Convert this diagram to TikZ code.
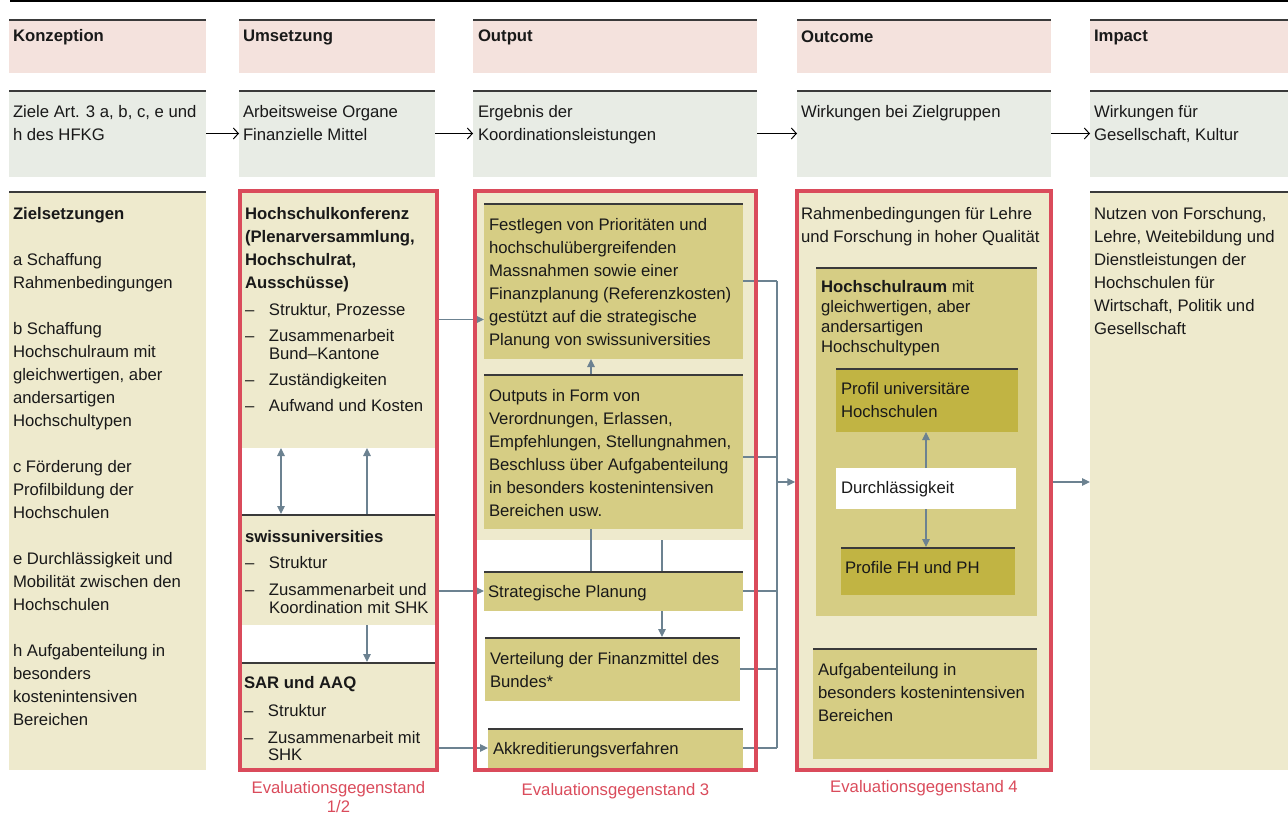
\documentclass[tikz,border=0pt]{standalone}
\usepackage{fontspec}
\setmainfont{Liberation Sans}
\usepackage{tikz}
\usetikzlibrary{positioning,fit,arrows.meta}

\definecolor{kopfrosa}{HTML}{F4E2DD}
\definecolor{zeilgrau}{HTML}{E8ECE5}
\definecolor{beige}{HTML}{EEEACD}
\definecolor{khaki}{HTML}{D6CD84}
\definecolor{oliv}{HTML}{C1B443}
\definecolor{rahmenrot}{HTML}{DA4B5B}
\definecolor{pfeilgrau}{HTML}{6C8291}
\definecolor{kante}{HTML}{3A3A3A}

\newcommand{\strich}{\makebox[24pt][l]{–}}
\newcommand{\einzug}{\hspace*{24pt}}

\tikzset{
  feld/.style={inner sep=0pt, outer sep=0pt, fill=#1},
  oben/.style={path picture={\draw[kante, line width=3pt]
      (path picture bounding box.north west) -- (path picture bounding box.north east);}},
  txt/.style={inner sep=0pt, outer sep=0pt, align=left, text=black!90, yshift=-1pt,
      font=\fontsize{16.7}{23}\selectfont},
  kopftxt/.style={txt, font=\fontsize{16.7}{23}\selectfont\bfseries},
  rahmen/.style={draw=rahmenrot, line width=3.5pt, inner sep=0pt, outer sep=0pt},
  unterschrift/.style={txt, align=center, text=rahmenrot},
  pfeil/.style={draw=pfeilgrau, line width=1.2pt, -{Triangle[length=8pt,width=7.5pt]}},
  doppelpfeil/.style={draw=pfeilgrau, line width=1.2pt,
      {Triangle[length=8pt,width=7.5pt]}-{Triangle[length=8pt,width=7.5pt]}},
  linie/.style={draw=pfeilgrau, line width=1.2pt},
  zeiger/.style={draw=black, line width=1pt, -{Straight Barb[length=5pt,width=11pt]}},
}

\begin{document}
\begin{tikzpicture}[x=1pt, y=-1pt]
\useasboundingbox (0,0) rectangle (1288,814);
\draw[line width=2pt] (10,1) -- (1288,1);

% Kopfzeile und zweite Zeile
\foreach \name/\xa/\xb in {Konz/9/206, Ums/239/435, Outp/473/757, Outc/797/1051, Imp/1090/1288} {
  \node[feld=kopfrosa, oben, fit={(\xa,19) (\xb,73)}] (k\name) {};
  \node[feld=zeilgrau, oben, fit={(\xa,90) (\xb,177)}] (z\name) {};
}
\node[kopftxt, below right=5.5pt and 4pt of kKonz.north west] (tkKonz) {\strut Konzeption};
\node[kopftxt, below right=5.5pt and 4pt of kUms.north west] (tkUms) {\strut Umsetzung};
\node[kopftxt, below right=5.5pt and 5pt of kOutp.north west] (tkOutp) {\strut Output};
\node[kopftxt, below right=6.5pt and 4pt of kOutc.north west] (tkOutc) {\strut Outcome};
\node[kopftxt, below right=5.5pt and 4pt of kImp.north west] (tkImp) {\strut Impact};

\node[txt, below right=10.5pt and 4pt of zKonz.north west] (tzKonz) {\strut Ziele Art. 3 a, b, c, e und\\h des HFKG};
\node[txt, below right=10.5pt and 4pt of zUms.north west] (tzUms) {\strut Arbeitsweise Organe\\Finanzielle Mittel};
\node[txt, below right=10.5pt and 5pt of zOutp.north west] (tzOutp) {\strut Ergebnis der\\Koordinationsleistungen};
\node[txt, below right=10.5pt and 4pt of zOutc.north west] (tzOutc) {\strut Wirkungen bei Zielgruppen};
\node[txt, below right=10.5pt and 4pt of zImp.north west] (tzImp) {\strut Wirkungen für\\Gesellschaft, Kultur};

\foreach \a/\b in {Konz/Ums, Ums/Outp, Outp/Outc, Outc/Imp}
  \draw[zeiger] (z\a.east) -- (z\b.west);

% Konzeption
\node[feld=beige, oben, fit={(9,191) (206,770)}] (ziele) {};
\node[txt, below right=11.5pt and 4pt of ziele.north west] (tziele) {\strut\textbf{Zielsetzungen}\\[\baselineskip]
  a Schaffung\\Rahmenbedingungen\\[\baselineskip]
  b Schaffung\\Hochschulraum mit\\gleichwertigen, aber\\andersartigen\\Hochschultypen\\[\baselineskip]
  c Förderung der\\Profilbildung der\\Hochschulen\\[\baselineskip]
  e Durchlässigkeit und\\Mobilität zwischen den\\Hochschulen\\[\baselineskip]
  h Aufgabenteilung in\\besonders\\kostenintensiven\\Bereichen};

% Umsetzung
\node[feld=beige, fit={(240,191) (437,448)}] (hsk) {};
\node[feld=beige, oben, fit={(240,514) (437,625)}] (swu) {};
\node[feld=beige, oben, fit={(240,662) (437,770)}] (sar) {};
\node[txt, below right=11.5pt and 5pt of hsk.north west] (thsk) {\strut\textbf{Hochschulkonferenz}\\
  \textbf{(Plenarversammlung,}\\\textbf{Hochschulrat,}\\\textbf{Ausschüsse)}\\[4pt]
  \strich Struktur, Prozesse\\[3pt]
  \strich Zusammenarbeit\\[-5pt]
  \einzug Bund–Kantone\\[3pt]
  \strich Zuständigkeiten\\[3pt]
  \strich Aufwand und Kosten};
\node[txt, below right=11.5pt and 5pt of swu.north west] (tswu) {\strut\textbf{swissuniversities}\\[3pt]
  \strich Struktur\\[4pt]
  \strich Zusammenarbeit und\\[-5pt]
  \einzug Koordination mit SHK};
\node[txt, below right=9.5pt and 4pt of sar.north west] (tsar) {\strut\textbf{SAR und AAQ}\\[5pt]
  \strich Struktur\\[4pt]
  \strich Zusammenarbeit mit\\[-6pt]
  \einzug SHK};

% Output
\node[feld=beige, fit={(475,191) (756,540)}] (outBg) {};
\node[feld=khaki, oben, fit={(484,203) (743,359)}] (fest) {};
\node[feld=khaki, oben, fit={(484,374) (743,529)}] (outp) {};
\node[feld=khaki, oben, fit={(484,571) (743,611)}] (strat) {};
\node[feld=khaki, oben, fit={(485,637) (740,701)}] (vert) {};
\node[feld=khaki, oben, fit={(488,728) (743,768)}] (akkr) {};
\node[txt, below right=10.5pt and 5pt of fest.north west] (tfest) {\strut Festlegen von Prioritäten und\\
  hochschulübergreifenden\\Massnahmen sowie einer\\Finanzplanung (Referenzkosten)\\
  gestützt auf die strategische\\Planung von swissuniversities};
\node[txt, below right=10.5pt and 5pt of outp.north west] (toutp) {\strut Outputs in Form von\\
  Verordnungen, Erlassen,\\Empfehlungen, Stellungnahmen,\\Beschluss über Aufgabenteilung\\
  in besonders kostenintensiven\\Bereichen usw.};
\node[txt, below right=9.5pt and 4pt of strat.north west] (tstrat) {\strut Strategische Planung};
\node[txt, below right=10.5pt and 5pt of vert.north west] (tvert) {\strut Verteilung der Finanzmittel des\\Bundes*};
\node[txt, below right=9.5pt and 5pt of akkr.north west] (takkr) {\strut Akkreditierungsverfahren};

% Outcome
\node[feld=beige, fit={(797,191) (1051,770)}] (outcBg) {};
\node[txt, below right=11.5pt and 4pt of outcBg.north west] (trahmen) {\strut Rahmenbedingungen für Lehre\\und Forschung in hoher Qualität};
\node[feld=khaki, oben, fit={(816,267) (1037,616)}] (hsraum) {};
\node[feld=oliv, oben, fit={(836,368) (1018,432)}] (profuni) {};
\node[feld=white, fit={(836,468) (1016,509)}] (durch) {};
\node[feld=oliv, oben, fit={(841,547) (1015,595)}] (proffh) {};
\node[feld=khaki, oben, fit={(813,648) (1037,759)}] (aufg) {};
\node[txt, below right=8.5pt and 5pt of hsraum.north west] (thsraum) {\strut\textbf{Hochschulraum} mit\\[-3pt]
  gleichwertigen, aber\\[-3pt]andersartigen\\[-3pt]Hochschultypen};
\node[txt, below right=9.5pt and 5pt of profuni.north west] (tprofuni) {\strut Profil universitäre\\Hochschulen};
\node[txt, below right=8.5pt and 5pt of durch.north west] (tdurch) {\strut Durchlässigkeit};
\node[txt, below right=9.5pt and 4pt of proffh.north west] (tproffh) {\strut Profile FH und PH};
\node[txt, below right=10.5pt and 5pt of aufg.north west] (taufg) {\strut Aufgabenteilung in\\besonders kostenintensiven\\Bereichen};

% Impact
\node[feld=beige, oben, fit={(1090,191) (1288,770)}] (nutzen) {};
\node[txt, below right=11.5pt and 4pt of nutzen.north west] (tnutzen) {\strut Nutzen von Forschung,\\
  Lehre, Weitebildung und\\Dienstleistungen der\\Hochschulen für\\Wirtschaft, Politik und\\Gesellschaft};

% Verbindungen
\draw[doppelpfeil] ([xshift=41pt]hsk.south west) -- ([xshift=41pt]swu.north west);
\draw[pfeil] ([xshift=127pt]swu.north west) -- ([xshift=127pt]hsk.south west);
\draw[pfeil] ([xshift=127pt]swu.south west) -- ([xshift=127pt]sar.north west);
\draw[pfeil] (hsk.east) -- (hsk.east -| fest.west);
\draw[pfeil] (strat.west -| swu.east) -- (strat.west);
\draw[pfeil] (akkr.west -| sar.east) -- (akkr.west);

\draw[pfeil] ([xshift=107pt]outp.north west) -- ([xshift=107pt]fest.south west);
\draw[linie] ([xshift=107pt]outp.south west) -- ([xshift=107pt]strat.north west);
\coordinate (sp2) at ([xshift=178pt]strat.north west);
\coordinate (sp3) at ([xshift=178pt]strat.south west);
\draw[linie] (sp2) -- (sp2 |- outBg.south);
\draw[pfeil] (sp3) -- (sp3 |- vert.north);

\coordinate (sammel) at (777,482);
\foreach \k in {fest, strat, vert, akkr}
  \draw[linie] (\k.east) -- (\k.east -| sammel);
\draw[linie] ([yshift=-5.5pt]outp.east) -- ([yshift=-5.5pt]outp.east -| sammel);
\draw[linie] (fest.east -| sammel) -- (akkr.east -| sammel);
\draw[pfeil, shorten >=1.75pt] (sammel) -- (sammel -| outcBg.west);

\draw[pfeil] (durch.north) -- (durch.north |- profuni.south);
\draw[pfeil] (durch.south) -- (durch.south |- proffh.north);
\draw[pfeil, shorten <=1.75pt] (sammel -| outcBg.east) -- (sammel -| nutzen.west);

% Evaluationsgegenstaende
\node[rahmen, fit={(240,191) (437,770)}] (evalA) {};
\node[rahmen, fit={(475,191) (756,770)}] (evalB) {};
\node[rahmen, fit={(797,191) (1051,770)}] (evalC) {};
\node[unterschrift, below=6.5pt of evalA] (uA) {\strut Evaluationsgegenstand\\[-4pt]1/2};
\node[unterschrift, below=8.5pt of evalB] (uB) {\strut Evaluationsgegenstand 3};
\node[unterschrift, below=5.5pt of evalC] (uC) {\strut Evaluationsgegenstand 4};
\end{tikzpicture}
\end{document}
